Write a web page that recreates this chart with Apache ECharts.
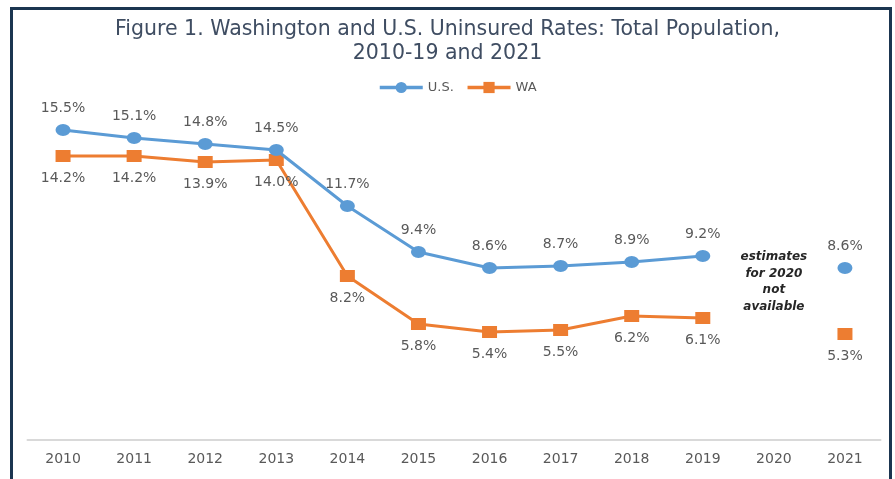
<!DOCTYPE html>
<html>
<head>
<meta charset="utf-8">
<script src="https://cdn.jsdelivr.net/npm/echarts@6/dist/echarts.min.js"></script>
<style>
html,body{margin:0;padding:0;background:#fff;}
#frame{position:absolute;left:10px;top:7px;width:876px;height:520px;border:3px solid #1b3550;box-sizing:content-box;}
#chart{position:absolute;left:0;top:0;width:895px;height:479px;}
</style>
</head>
<body>
<div id="frame"></div>
<div id="chart"></div>
<script>
var years = ['2010','2011','2012','2013','2014','2015','2016','2017','2018','2019','2020','2021'];
var usRates = [15.5, 15.1, 14.8, 14.5, 11.7, 9.4, 8.6, 8.7, 8.9, 9.2, null, 8.6];
var waRates = [14.2, 14.2, 13.9, 14.0, 8.2, 5.8, 5.4, 5.5, 6.2, 6.1, null, 5.3];
var noteText = ['estimates', 'for 2020', 'not', 'available'];
var noteYear = '2020';
var noteValue = 7.9;

var FONT = 'DejaVu Sans';
var chart = echarts.init(document.getElementById('chart'), null, {renderer:'canvas'});
chart.setOption({
  animation: false,
  backgroundColor: 'transparent',
  title: {
    text: 'Figure 1. Washington and U.S. Uninsured Rates: Total Population,\n2010-19 and 2021',
    left: 'center',
    top: 13,
    padding: [5, 0, 5, 8],
    textStyle: {fontFamily: FONT, fontSize: 20.5, fontWeight: 'normal', color: '#3f4d62', lineHeight: 24}
  },
  legend: {
    left: 373,
    top: 76,
    itemWidth: 43,
    itemHeight: 14,
    itemGap: 12,
    lineStyle: {width: 3.5},
    textStyle: {fontFamily: FONT, fontSize: 13, color: '#595959'},
    data: ['U.S.', 'WA']
  },
  grid: {left: 27.5, right: 14.5, top: 100, bottom: 39},
  xAxis: {
    type: 'category',
    data: years,
    boundaryGap: true,
    axisLine: {lineStyle: {color: '#d9d9d9', width: 2}},
    axisTick: {show: false},
    axisLabel: {fontFamily: FONT, fontSize: 14, color: '#595959', margin: 12}
  },
  yAxis: {
    type: 'value', min: 0, max: 17, show: false,
    splitLine: {show: false}
  },
  series: [
    {
      name: 'U.S.',
      type: 'line',
      data: usRates,
      connectNulls: false,
      symbol: 'circle',
      symbolSize: [15, 12],
      itemStyle: {color: '#5b9bd5'},
      lineStyle: {color: '#5b9bd5', width: 3},
      label: {show: true, position: 'top', distance: 9, fontFamily: FONT, fontSize: 14, color: '#595959',
        formatter: function(p){ return p.value.toFixed(1) + '%'; }},
      markPoint: {
        symbol: 'circle', symbolSize: 0,
        silent: true,
        data: [{coord: [noteYear, noteValue], value: 0}],
        label: {show: true, position: 'inside', fontFamily: FONT, fontSize: 12, fontStyle: 'italic', fontWeight: 'bold',
          color: '#262626', lineHeight: 16.5, align: 'center', verticalAlign: 'middle',
          formatter: function(){ return noteText.join('\n'); }}
      },
      z: 3
    },
    {
      name: 'WA',
      type: 'line',
      data: waRates,
      connectNulls: false,
      symbol: 'rect',
      symbolSize: [15, 12],
      itemStyle: {color: '#ed7d31'},
      lineStyle: {color: '#ed7d31', width: 3},
      label: {show: true, position: 'bottom', distance: 9, fontFamily: FONT, fontSize: 14, color: '#595959',
        formatter: function(p){ return p.value.toFixed(1) + '%'; }},
      z: 2
    }
  ]
});
</script>
</body>
</html>
